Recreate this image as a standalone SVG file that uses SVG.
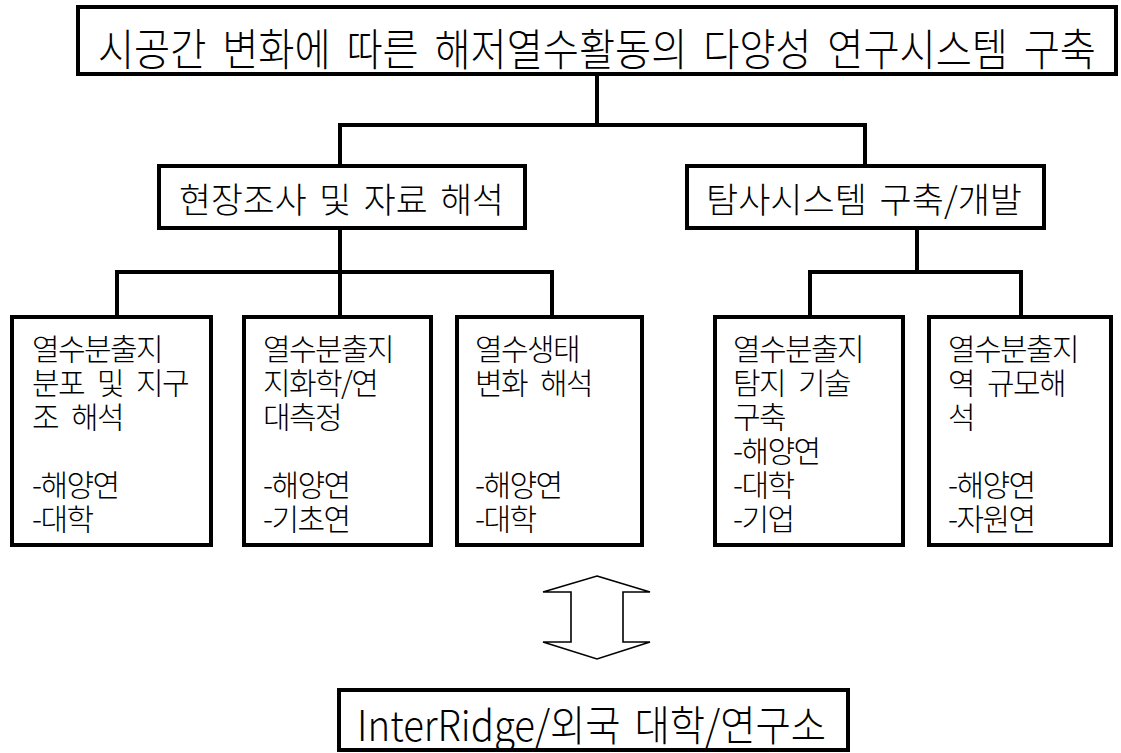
<svg xmlns="http://www.w3.org/2000/svg" width="1121" height="753" viewBox="0 0 1121 753">
<style>
.box{fill:#fff;stroke:#000;stroke-width:4}
.con{fill:none;stroke:#000;stroke-width:4;stroke-linejoin:miter;stroke-linecap:square}
.t{font-family:"Noto Sans CJK KR","Noto Sans",sans-serif;font-weight:300;fill:#000}
.bt{font-size:30px;letter-spacing:-1.6px;word-spacing:8px}
</style>
<rect width="1121" height="753" fill="#fff"/>
<g id="connectors">
<path class="con" d="M597 76V125M340 125H865M340 125V164M865 125V164"/>
<path class="con" d="M340 230V315M117 272H552M117 272V315M552 272V315"/>
<path class="con" d="M917 230V272M810 272H1021M810 272V315M1021 272V315"/>
</g>
<g id="title">
<rect class="box" x="78" y="7" width="1038" height="67"/>
<text class="t" x="98" y="66" font-size="44" word-spacing="8" textLength="998" lengthAdjust="spacingAndGlyphs">시공간 변화에 따른 해저열수활동의 다양성 연구시스템 구축</text>
</g>
<g id="field">
<rect class="box" x="159" y="166" width="366" height="62"/>
<text class="t" x="179" y="213" font-size="35" word-spacing="5" textLength="325" lengthAdjust="spacingAndGlyphs">현장조사 및 자료 해석</text>
</g>
<g id="explore">
<rect class="box" x="687" y="166" width="357" height="62"/>
<text class="t" x="706" y="213" font-size="35" word-spacing="5" textLength="316" lengthAdjust="spacingAndGlyphs">탐사시스템 구축/개발</text>
</g>
<g id="box1">
<rect class="box" x="12" y="317" width="199" height="228"/>
<text class="t bt"><tspan x="32" y="360">열수분출지</tspan><tspan x="32" y="394">분포 및 지구</tspan><tspan x="32" y="428">조 해석</tspan><tspan x="32" y="496">-해양연</tspan><tspan x="32" y="530">-대학</tspan></text>
</g>
<g id="box2">
<rect class="box" x="244" y="317" width="187" height="228"/>
<text class="t bt"><tspan x="263" y="360">열수분출지</tspan><tspan x="263" y="394">지화학/연</tspan><tspan x="263" y="428">대측정</tspan><tspan x="263" y="496">-해양연</tspan><tspan x="263" y="530">-기초연</tspan></text>
</g>
<g id="box3">
<rect class="box" x="457" y="317" width="185" height="228"/>
<text class="t bt"><tspan x="475" y="360">열수생태</tspan><tspan x="475" y="394">변화 해석</tspan><tspan x="475" y="496">-해양연</tspan><tspan x="475" y="530">-대학</tspan></text>
</g>
<g id="box4">
<rect class="box" x="715" y="317" width="188" height="228"/>
<text class="t bt"><tspan x="733" y="360">열수분출지</tspan><tspan x="733" y="394">탐지 기술</tspan><tspan x="733" y="428">구축</tspan><tspan x="733" y="462">-해양연</tspan><tspan x="733" y="496">-대학</tspan><tspan x="733" y="530">-기업</tspan></text>
</g>
<g id="box5">
<rect class="box" x="929" y="317" width="182" height="228"/>
<text class="t bt"><tspan x="948" y="360">열수분출지</tspan><tspan x="948" y="394">역 규모해</tspan><tspan x="948" y="428">석</tspan><tspan x="948" y="496">-해양연</tspan><tspan x="948" y="530">-자원연</tspan></text>
</g>
<g id="arrow">
<polygon points="597,576 650,592 623,592 623,642 650,642 597,659 543,642 571,642 571,592 543,592" fill="#fff" stroke="#000" stroke-width="1.6" stroke-linejoin="miter"/>
</g>
<g id="external">
<rect class="box" x="339" y="690" width="509" height="60"/>
<text class="t" x="357" y="741" font-size="42" word-spacing="6" textLength="469" lengthAdjust="spacingAndGlyphs">InterRidge/외국 대학/연구소</text>
</g>
</svg>
